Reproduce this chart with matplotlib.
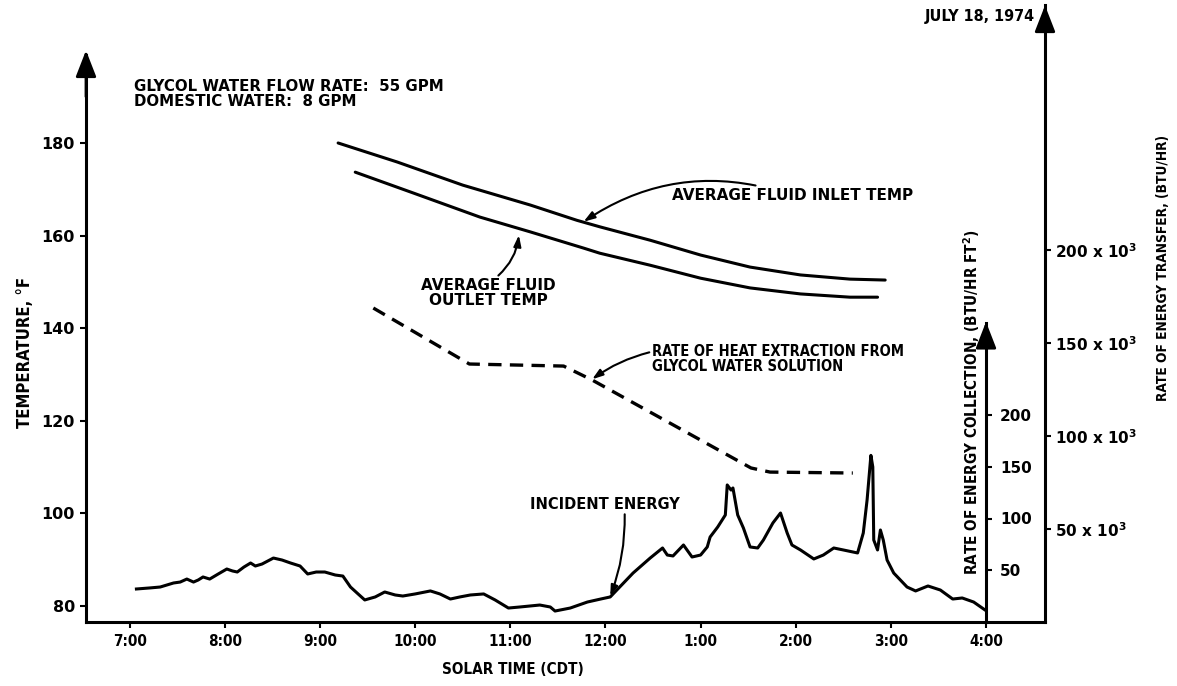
import matplotlib
matplotlib.use("Agg")
import matplotlib.pyplot as plt

plt.rcParams['font.family'] = ['DejaVu Sans']
plt.rcParams['font.weight'] = 'bold'
plt.rcParams['font.stretch'] = 'condensed'
plt.rcParams['mathtext.default'] = 'regular'

# --------- dados (hora solar em horas decimais) ---------
inlet_h = [9.19, 9.81, 10.50, 11.21, 11.70, 11.94, 12.47, 13.00, 13.52, 14.05, 14.57, 14.94]
inlet_t = [180.0, 175.9, 170.9, 166.6, 163.3, 161.9, 159.0, 155.8, 153.2, 151.5, 150.6, 150.4]

outlet_h = [9.37, 9.98, 10.68, 11.21, 11.77, 11.94, 12.47, 13.00, 13.52, 14.05, 14.57, 14.86]
outlet_t = [173.7, 169.2, 164.0, 160.8, 157.3, 156.2, 153.6, 150.8, 148.7, 147.4, 146.7, 146.7]

# taxa de extracao de calor, em milhares de BTU/HR
heat_h = [9.56, 10.57, 11.56, 11.86, 13.53, 13.73, 14.60]
heat_k = [168.8, 138.7, 137.6, 130.1, 82.8, 80.6, 80.1]

# energia incidente, BTU/HR FT2
incid_h = [7.07, 7.21, 7.32, 7.46, 7.53, 7.60, 7.67, 7.72, 7.77, 7.84, 7.93, 8.02,
           8.08, 8.13, 8.20, 8.27, 8.32, 8.39, 8.51, 8.60, 8.69, 8.79, 8.87, 8.96,
           9.05, 9.16, 9.24, 9.32, 9.40, 9.47, 9.58, 9.68, 9.79, 9.87, 10.00, 10.16,
           10.26, 10.37, 10.47, 10.58, 10.72, 10.84, 10.98, 11.10, 11.31, 11.42, 11.47,
           11.63, 11.81, 11.95, 12.05, 12.29, 12.47, 12.60, 12.65, 12.71, 12.82, 12.91,
           13.00, 13.07, 13.10, 13.18, 13.26, 13.28, 13.32, 13.34, 13.39, 13.45, 13.52,
           13.60, 13.66, 13.76, 13.84, 13.91, 13.96, 14.05, 14.19, 14.29, 14.40, 14.50,
           14.65, 14.71, 14.75, 14.79, 14.81, 14.82, 14.86, 14.89, 14.92, 14.96, 15.03,
           15.17, 15.26, 15.39, 15.52, 15.65, 15.75, 15.87, 15.99]
incid_v = [31.9, 32.9, 33.8, 37.7, 38.6, 41.5, 38.6, 40.6, 43.5, 41.5, 46.4, 51.2,
           49.3, 48.3, 53.1, 57.0, 54.1, 56.0, 61.8, 59.9, 57.0, 54.1, 46.4, 48.3,
           48.3, 45.4, 44.4, 33.8, 27.1, 21.3, 24.2, 29.0, 26.1, 25.1, 27.1, 30.0,
           27.1, 22.2, 24.2, 26.1, 27.1, 21.3, 13.5, 14.5, 16.4, 14.5, 10.6,
           13.5, 19.3, 22.2, 24.2, 47.3, 61.8, 71.5, 64.7, 63.8, 74.4, 62.8,
           64.7, 72.5, 82.1, 91.8, 103.4, 132.4, 127.5, 129.5, 103.4, 90.8, 72.5,
           71.5, 79.2, 95.7, 105.3, 86.0, 74.4, 69.6, 60.9, 64.7, 71.5, 69.6,
           66.7, 86.0, 117.9, 161.0, 149.8, 79.2, 69.6, 88.9, 79.2, 59.9, 47.3,
           33.8, 30.0, 34.8, 30.9, 22.2, 23.2, 19.3, 11.6]

hour_ticks = [7, 8, 9, 10, 11, 12, 13, 14, 15, 16]
hour_labels = ['7:00', '8:00', '9:00', '10:00', '11:00', '12:00', '1:00', '2:00', '3:00', '4:00']
temp_ticks = [80, 100, 120, 140, 160, 180]
coll_ticks = [50, 100, 150, 200]
transf_ticks = [50, 100, 150, 200]

W, H = 1177, 686
fig = plt.figure(figsize=(W / 100, H / 100), dpi=100)
ax = fig.add_axes([86 / W, 1 - 622 / H, (1045 - 86) / W, (622 - 5) / H])
ax.set_xlim(6.54, 16.62)
ax.set_ylim(76.55, 209.8)
for s in ['top', 'right']:
    ax.spines[s].set_visible(False)
ax.spines['left'].set_bounds(76.55, 199)
for s in ['left', 'bottom']:
    ax.spines[s].set_linewidth(2.2)
ax.set_xticks(hour_ticks)
ax.set_xticklabels(hour_labels)
ax.set_yticks(temp_ticks)
ax.tick_params(axis='x', length=4, width=1.5, labelsize=11, pad=5)
ax.tick_params(axis='y', length=4, width=1.5, labelsize=11.5, pad=4)
for t in ax.get_yticklabels():
    t.set_fontstretch('normal')

LW = 2.2
ax.plot(inlet_h, inlet_t, color='k', lw=LW, solid_capstyle='round', solid_joinstyle='round')
ax.plot(outlet_h, outlet_t, color='k', lw=LW, solid_capstyle='round', solid_joinstyle='round')

# eixo da energia coletada (no fim do dia, 4:00)
ax2 = ax.twinx()
ax2.set_ylim(0, 617 / 1.035)
for s in ['top', 'left', 'bottom']:
    ax2.spines[s].set_visible(False)
ax2.spines['right'].set_position(('data', 16.0))
ax2.spines['right'].set_bounds(0, 289)
ax2.spines['right'].set_linewidth(2.2)
ax2.set_yticks(coll_ticks)
ax2.tick_params(length=4, width=1.5, labelsize=11, pad=6)
for t in ax2.get_yticklabels():
    t.set_fontstretch('normal')
ax2.plot(incid_h, incid_v, color='k', lw=LW, solid_joinstyle='round')

# eixo da taxa de transferencia
ax3 = ax.twinx()
ax3.set_ylim(0, 617 / 1.86)
for s in ['top', 'left', 'bottom']:
    ax3.spines[s].set_visible(False)
ax3.spines['right'].set_linewidth(2.2)
ax3.set_yticks(transf_ticks)
ax3.set_yticklabels([f'{v} x 10$^3$' for v in transf_ticks], fontstretch='normal')
ax3.tick_params(length=4, width=1.5, labelsize=11, pad=3)
ax3.plot(heat_h, heat_k, color='k', lw=2.4, dashes=(4, 2.5))

# setas no topo dos eixos
arrow = dict(arrowstyle='-|>,head_length=0.9,head_width=0.35', color='k', lw=2,
             mutation_scale=18, shrinkA=0, shrinkB=0)
ax.annotate('', xy=(6.54, 200), xytext=(6.54, 190), arrowprops=arrow, annotation_clip=False)
ax2.annotate('', xy=(16.0, 290), xytext=(16.0, 270), arrowprops=arrow, annotation_clip=False)
ax3.annotate('', xy=(16.62, 331.5), xytext=(16.62, 320), arrowprops=arrow, annotation_clip=False)

# rotulos das curvas
lead = dict(arrowstyle='-|>,head_length=0.6,head_width=0.2', color='k', lw=1.5,
            shrinkA=0, shrinkB=0)
ax.annotate('AVERAGE FLUID INLET TEMP', xy=(11.77, 163.0), xytext=(12.70, 168.6),
            fontsize=11, fontstretch='normal', va='center', ha='left',
            arrowprops=dict(lead, connectionstyle='arc3,rad=0.25'))
ax.annotate('AVERAGE FLUID\nOUTLET TEMP', xy=(11.09, 160.1), xytext=(10.77, 147.6),
            fontsize=11, fontstretch='normal', va='center', ha='center', linespacing=0.95,
            arrowprops=dict(lead, connectionstyle='arc3,rad=0.2', relpos=(0.55, 1.0)))
ax3.annotate('RATE OF HEAT EXTRACTION FROM\nGLYCOL WATER SOLUTION', xy=(11.86, 130.5),
             xytext=(12.49, 141.4), fontsize=10.5, va='center', ha='left', linespacing=0.95,
             arrowprops=dict(lead, connectionstyle='arc3,rad=0.1', relpos=(0.0, 0.75)))
ax2.annotate('INCIDENT ENERGY', xy=(12.05, 25), xytext=(11.21, 114),
             fontsize=10.5, fontstretch='normal', va='center', ha='left',
             arrowprops=dict(lead, connectionstyle='arc3,rad=-0.1', relpos=(0.63, 0.0)))

fig.text(134 / W, 1 - 94 / H, 'GLYCOL WATER FLOW RATE:  55 GPM\nDOMESTIC WATER:  8 GPM',
         fontsize=10.8, fontstretch='normal', linespacing=0.95, va='center', ha='left')
fig.text(1035 / W, 1 - 16 / H, 'JULY 18, 1974', fontsize=11.5,
         va='center', ha='right')

fig.text(25 / W, 1 - 352 / H, 'TEMPERATURE, °F', rotation=90, fontsize=12,
         va='center', ha='center')
fig.text(513 / W, 1 - 669 / H, 'SOLAR TIME (CDT)', fontsize=11, va='center', ha='center')
fig.text(972 / W, 1 - 402 / H, 'RATE OF ENERGY COLLECTION, (BTU/HR FT$^2$)', rotation=90,
         fontsize=11, va='center', ha='center')
fig.text(1163 / W, 1 - 268 / H, 'RATE OF ENERGY TRANSFER, (BTU/HR)', rotation=90,
         fontsize=9.8, va='center', ha='center')

fig.savefig('out.png', dpi=100)
